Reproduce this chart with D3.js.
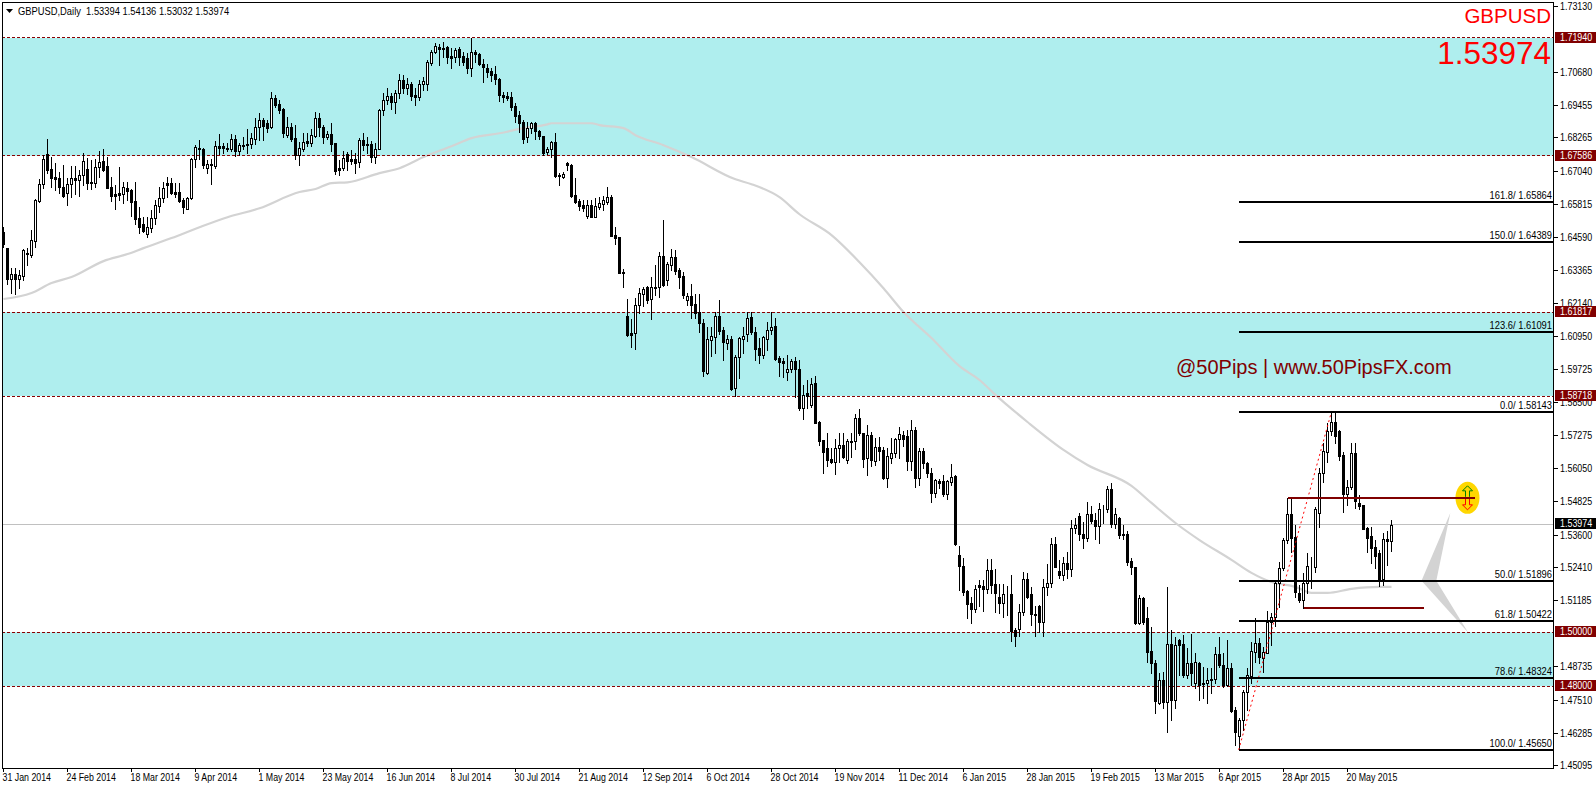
<!DOCTYPE html>
<html><head><meta charset="utf-8">
<script src="https://cdnjs.cloudflare.com/ajax/libs/d3/7.8.5/d3.min.js"></script>
<style>html,body{margin:0;padding:0;background:#fff;overflow:hidden}svg{display:block}
text{font-family:"Liberation Sans",Arial,sans-serif;font-size:11px;fill:#000}</style></head>
<body><svg id="c" width="1596" height="786"></svg>
<script>
// Prices in 1e-4 units, one bar per trading day
const opens=[
16477,16417,16304,16322,16304,16315,16399,16392,16443,16591,
16654,16765,16709,16680,16676,16643,16621,16654,16676,16669,
16687,16709,16661,16658,16717,16739,16720,16643,16617,16621,
16617,16639,16632,16591,16529,16506,16469,16492,16529,16573,
16602,16658,16658,16625,16625,16595,16562,16602,16746,16787,
16783,16713,16728,16720,16794,16794,16787,16783,16820,16776,
16798,16798,16802,16820,16864,16890,16879,16864,16971,16949,
16931,16835,16864,16824,16761,16783,16813,16805,16831,16898,
16864,16827,16838,16805,16713,16713,16765,16746,16746,16735,
16816,16802,16802,16754,16783,16927,16964,16979,16957,16990,
17038,17008,17023,16982,16975,17023,17023,17101,17141,17160,
17156,17160,17126,17123,17152,17126,17119,17082,17141,17134,
17097,17082,17071,17060,17042,16982,16979,16975,16942,16909,
16883,16827,16861,16879,16849,16831,16772,16783,16809,16687,
16680,16732,16724,16613,16591,16577,16536,16577,16532,16569,
16580,16588,16606,16466,16458,16329,
16167,16104,16104,16207,16248,16274,16230,16270,16274,16388,
16300,16355,16385,16337,16315,16226,16241,16211,16182,16141,
15957,16078,16089,16167,16115,16067,16082,15901,16016,16082,
16100,16163,16108,16048,16024,16082,16115,16130,16012,16001,
15960,15971,16001,15971,15827,15883,15839,15920,15776,15709,
15679,15639,15628,15679,15691,15636,15705,15705,15791,15735,
15643,15728,15632,15683,15673,15569,15643,15662,15713,15728,
15724,15632,15746,15569,15669,15625,15588,15514,15558,15558,
15510,15555,15577,
15286,15245,15152,15108,15086,15174,15171,15160,15230,15178,
15130,15108,15141,15141,15008,15012,15075,15197,15141,15067,
15097,15038,15167,15182,15326,15226,15211,15256,15233,15385,
15429,15363,15348,15436,15414,15392,15455,15455,15529,15399,
15421,15363,15363,15263,15241,15034,15126,15053,14931,14887,
14739,14824,14743,14956,14750,14971,14956,14842,14887,14813,
14887,14813,14813,14824,14828,14920,14879,14805,14868,14713,
14617,14676,14780,14839,14927,14960,14905,14923,15038,15056,
15182,15237,15340,15436,15351,15145,15119,15182,15245,15241,
15440,15588,15665,15743,15776,15743,15654,15510,15536,15662,
15477,15470,15385,15355,15315,15293,15197,15344,15337];
const highs=[
16495,16418,16344,16344,16337,16414,16418,16484,16599,16672,
16761,16820,16754,16732,16698,16724,16676,16720,16720,16706,
16768,16750,16743,16746,16776,16783,16754,16680,16650,16717,
16661,16661,16636,16661,16569,16532,16532,16558,16595,16643,
16661,16680,16676,16658,16658,16602,16606,16750,16798,16816,
16787,16743,16746,16813,16838,16805,16805,16838,16835,16805,
16827,16857,16842,16898,16916,16898,16890,16994,16982,16964,
16934,16901,16879,16872,16809,16842,16842,16857,16920,16916,
16872,16849,16879,16805,16743,16776,16772,16779,16768,16824,
16842,16827,16813,16805,16931,16990,17008,16990,17001,17060,
17056,17045,17030,17008,17038,17049,17112,17149,17174,17171,
17178,17163,17156,17156,17160,17141,17137,17193,17149,17137,
17115,17097,17082,17089,17045,16994,16994,16994,16953,16923,
16890,16883,16883,16883,16853,16831,16791,16813,16842,16695,
16698,16735,16728,16676,16599,16595,16595,16595,16602,16606,
16610,16643,16613,16495,16458,16340,
16230,16156,16233,16270,16274,16278,16311,16355,16403,16521,
16366,16414,16410,16344,16329,16252,16285,16248,16248,16156,
16126,16126,16182,16226,16126,16097,16093,16024,16089,16126,
16182,16182,16126,16086,16093,16145,16182,16159,16020,16012,
16024,16008,16016,16005,15913,15931,15938,15946,15780,15709,
15735,15679,15713,15735,15735,15713,15735,15806,15824,15735,
15765,15739,15717,15720,15683,15679,15717,15717,15757,15743,
15746,15783,15757,15679,15679,15628,15606,15566,15566,15580,
15562,15621,15580,
15318,15274,15156,15130,15174,15193,15193,15270,15270,15233,
15178,15178,15171,15211,15016,15104,15222,15219,15167,15097,
15101,15197,15252,15348,15351,15267,15278,15296,15414,15421,
15440,15407,15481,15466,15440,15477,15470,15540,15551,15458,
15425,15396,15374,15274,15241,15137,15130,15093,15019,14898,
14850,14853,15167,15008,14983,14975,14990,14942,14994,14923,
14890,14872,14868,14868,14946,14983,14923,14971,14887,14724,
14684,14787,14868,14964,15053,14979,14946,15078,15071,15193,
15259,15348,15495,15495,15396,15174,15219,15292,15278,15462,
15606,15698,15772,15809,15809,15746,15665,15562,15698,15698,
15507,15470,15388,15388,15340,15304,15366,15374,15414];
const lows=[
16421,16285,16252,16248,16270,16300,16355,16385,16421,16588,
16639,16695,16643,16632,16621,16606,16577,16606,16617,16610,
16650,16636,16636,16643,16680,16702,16639,16591,16562,16595,
16584,16595,16536,16506,16473,16477,16458,16477,16506,16551,
16588,16606,16617,16606,16588,16547,16562,16599,16717,16746,
16713,16695,16654,16713,16765,16768,16776,16776,16757,16761,
16783,16768,16787,16802,16816,16816,16846,16861,16938,16916,
16827,16827,16813,16746,16724,16776,16794,16794,16827,16831,
16805,16820,16776,16691,16687,16706,16706,16728,16695,16717,
16779,16768,16735,16732,16783,16909,16949,16931,16916,16971,
16990,16986,16964,16946,16964,17001,17001,17093,17137,17093,
17123,17101,17082,17104,17093,17093,17064,17053,17104,17093,
17030,17049,17034,17023,16960,16957,16964,16927,16883,16846,
16805,16809,16842,16820,16820,16761,16765,16754,16680,16650,
16676,16706,16606,16584,16558,16554,16529,16532,16532,16562,
16558,16580,16462,16433,16326,16274,
16093,16053,16045,16178,16204,16215,16156,16244,16237,16278,
16281,16337,16322,16270,16233,16207,16159,16159,16108,15946,
15953,16020,16030,16100,16005,16045,15894,15872,15938,16030,
16075,16100,16005,15994,16012,16042,16100,16005,15946,15942,
15931,15960,15868,15820,15787,15827,15831,15772,15691,15588,
15614,15625,15584,15628,15643,15625,15647,15676,15728,15610,
15580,15614,15618,15636,15566,15536,15625,15647,15643,15687,
15599,15599,15536,15544,15606,15573,15481,15499,15532,15503,
15492,15544,15322,
15156,15137,15053,15034,15075,15097,15078,15145,15145,15075,
15071,15056,15064,14968,14949,14986,15064,15126,15027,14986,
15001,14986,15137,15167,15241,15200,15193,15200,15207,15366,
15340,15311,15337,15403,15344,15329,15403,15444,15388,15385,
15348,15344,15248,15215,15031,15031,15031,14890,14850,14702,
14735,14720,14632,14676,14720,14842,14835,14831,14805,14794,
14750,14757,14739,14776,14813,14872,14798,14801,14706,14584,
14573,14639,14713,14813,14890,14887,14853,14923,14953,15023,
15093,15230,15329,15296,15130,15112,15090,15145,15163,15222,
15388,15554,15628,15728,15698,15636,15444,15470,15529,15458,
15455,15381,15296,15256,15237,15171,15174,15248,15300];
const closes=[
16433,16304,16322,16304,16318,16410,16396,16447,16595,16654,
16746,16706,16676,16672,16643,16610,16654,16676,16669,16687,
16739,16658,16658,16717,16735,16706,16639,16610,16610,16613,
16643,16628,16588,16525,16495,16480,16495,16529,16577,16602,
16639,16650,16621,16617,16591,16569,16602,16746,16791,16783,
16724,16728,16724,16794,16787,16787,16783,16820,16776,16798,
16794,16802,16824,16864,16890,16868,16861,16971,16946,16927,
16842,16864,16820,16761,16787,16809,16805,16835,16898,16864,
16827,16838,16802,16702,16706,16750,16739,16739,16732,16816,
16798,16798,16754,16783,16927,16964,16979,16957,16990,17038,
17008,17023,16979,16975,17023,17034,17104,17141,17163,17152,
17152,17123,17119,17149,17123,17104,17082,17141,17134,17097,
17086,17067,17056,17042,16982,16975,16971,16938,16905,16879,
16820,16861,16879,16849,16831,16768,16783,16809,16684,16684,
16691,16724,16610,16588,16573,16566,16577,16532,16573,16584,
16595,16606,16462,16455,16326,16326,
16096,16096,16207,16252,16267,16226,16274,16274,16388,16281,
16359,16385,16333,16311,16244,16241,16207,16178,16141,15964,
16082,16093,16167,16111,16071,16082,15898,16016,16086,16093,
16159,16108,16045,16024,16089,16115,16126,16008,15997,15994,
15971,16001,15971,15827,15876,15872,15916,15772,15705,15665,
15636,15628,15679,15691,15647,15705,15702,15791,15735,15639,
15728,15636,15683,15669,15569,15651,15662,15713,15731,15713,
15632,15746,15569,15669,15625,15588,15514,15562,15551,15510,
15558,15573,15326,
15245,15149,15104,15086,15160,15167,15160,15230,15174,15145,
15108,15141,15141,15005,14986,15075,15197,15130,15067,15064,
15038,15167,15182,15326,15241,15211,15256,15233,15385,15396,
15363,15348,15436,15411,15392,15455,15455,15529,15399,15436,
15359,15359,15259,15241,15034,15126,15038,14927,14887,14746,
14824,14743,14956,14750,14953,14953,14842,14887,14850,14890,
14805,14809,14824,14828,14920,14879,14805,14868,14709,14632,
14676,14780,14842,14931,14960,14909,14927,15038,15056,15182,
15237,15340,15436,15348,15149,15119,15182,15245,15245,15455,
15588,15669,15743,15776,15724,15651,15510,15536,15662,15484,
15466,15381,15348,15311,15282,15197,15344,15337,15397];
// moving average read at selected bars
const maBars=[0,7,12,17,25,31,35,42,49,56,64,74,78,82,86,94,99,105,112,117,124,130,136,137,147,149,155,158,165,172,183,187,194,199,207,214,220,225,232,239,244,248,256,265,271,282,287,293,299,307,312,317,323,327,331,337,344,347];
const maValues=[16230,16252,16289,16311,16370,16396,16418,16455,16495,16532,16565,16625,16636,16658,16661,16695,16713,16754,16794,16824,16842,16861,16875,16879,16879,16872,16861,16835,16798,16754,16672,16654,16606,16543,16466,16366,16270,16182,16086,15982,15931,15876,15776,15673,15617,15540,15477,15403,15340,15267,15219,15185,15167,15145,15145,15160,15167,15167];
const dateLabels=["31 Jan 2014","24 Feb 2014","18 Mar 2014","9 Apr 2014","1 May 2014","23 May 2014","16 Jun 2014","8 Jul 2014","30 Jul 2014","21 Aug 2014","12 Sep 2014","6 Oct 2014","28 Oct 2014","19 Nov 2014","11 Dec 2014","6 Jan 2015","28 Jan 2015","19 Feb 2015","13 Mar 2015","6 Apr 2015","28 Apr 2015","20 May 2015"];
const priceTicks=[1.7313,1.70680,1.69455,1.68265,1.6704,1.65815,1.6459,1.63365,1.6214,1.6095,1.59725,1.585,1.57275,1.5605,1.54825,1.536,1.5241,1.51185,1.48735,1.47510,1.46285,1.45095];
const zoneBands=[[1.7194,1.67586],[1.61817,1.58718],[1.5,1.48]];
const levelTags=[1.7194,1.67586,1.61817,1.58718,1.5,1.48];
const fibLevels=["161.8","150.0","123.6","0.0","50.0","61.8","78.6","100.0"];
const fibPrices=[1.65864,1.64389,1.61091,1.58143,1.51896,1.50422,1.48324,1.4565];
const lastClose=1.53974;
const header="GBPUSD,Daily  1.53394 1.54136 1.53032 1.53974";
const BARS_PER_TICK=16;

const W=1596,H=786,L=2,R=1553,T=2,B=768;
const x=d3.scaleLinear().domain([0,347]).range([3.5,1391.5]);
const y=d3.scaleLinear().domain([1.45095,1.7313]).range([765,5.7]);
const py=v=>y(v/1e4);
const snap=v=>Math.round(v)+0.5;
const svg=d3.select("#c");
// narrow a label to the pixel-font proportions of the terminal
function squeeze(sel,f){sel.each(function(){const n=this.getComputedTextLength();this.setAttribute("textLength",(n*f).toFixed(1));this.setAttribute("lengthAdjust","spacingAndGlyphs");});return sel;}
svg.append("defs").append("clipPath").attr("id","plot").append("rect").attr("x",L).attr("y",T).attr("width",R-L).attr("height",B-T);
const g=svg.append("g").attr("clip-path","url(#plot)");

g.selectAll(".zone").data(zoneBands).join("rect").attr("x",L).attr("width",R-L)
 .attr("y",d=>y(d[0])).attr("height",d=>y(d[1])-y(d[0])).attr("fill","#AFEEEE");
const bidY=Math.floor(y(lastClose));
g.append("line").attr("x1",L).attr("x2",R).attr("y1",bidY+.5).attr("y2",bidY+.5).attr("stroke","#C0C0C0").attr("shape-rendering","crispEdges");
const maLine=d3.line().x((d,i)=>x(maBars[i])).y(d=>py(d)).curve(d3.curveMonotoneX);
g.append("path").datum(maValues).attr("d",maLine).attr("fill","none").attr("stroke","#D3D3D3").attr("stroke-width",2.2);
g.selectAll(".lvl").data(levelTags).join("line").attr("x1",L).attr("x2",R)
 .attr("y1",d=>snap(y(d)-0.5)).attr("y2",d=>snap(y(d)-0.5)).attr("stroke","#8B0000").attr("stroke-dasharray","3,2").attr("shape-rendering","crispEdges");
const idx=d3.range(opens.length);
const cg=g.append("g").attr("shape-rendering","crispEdges");
cg.selectAll(".w").data(idx).join("line").attr("x1",i=>x(i)).attr("x2",i=>x(i))
 .attr("y1",i=>Math.round(py(highs[i]))).attr("y2",i=>Math.round(py(lows[i]))+1).attr("stroke","#000");
cg.selectAll(".b").data(idx).join("rect").attr("x",i=>x(i)-1).attr("width",2)
 .attr("y",i=>snap(py(Math.max(opens[i],closes[i]))))
 .attr("height",i=>Math.max(0,Math.round(py(Math.min(opens[i],closes[i])))-Math.round(py(Math.max(opens[i],closes[i])))))
 .attr("fill",i=>closes[i]>=opens[i]?"#fff":"#000").attr("stroke","#000");
g.append("line").attr("x1",x(308.8)).attr("y1",y(1.4565)).attr("x2",x(332)).attr("y2",y(1.58143)).attr("stroke","#FF0000").attr("stroke-dasharray","2,3");
g.append("polygon").attr("fill","#D3D3D3").attr("points",[[x(361.7),y(1.5440)],[x(354.5),y(1.51896)],[x(366.2),y(1.4998)],[x(358.2),y(1.51896)]].map(p=>p.join(",")).join(" "));
g.selectAll(".fib").data(fibPrices).join("line").attr("x1",x(308.8)).attr("x2",R)
 .attr("y1",d=>Math.round(y(d))).attr("y2",d=>Math.round(y(d))).attr("stroke","#000").attr("stroke-width",2).attr("shape-rendering","crispEdges");
squeeze(svg.selectAll(".fibt").data(fibPrices).join("text").attr("x",R-1).attr("y",d=>y(d)-3).attr("text-anchor","end")
 .text((d,i)=>fibLevels[i]+"/ "+d.toFixed(5)),0.85);
const markPrice=1.5496, lowMark=1.509;
g.append("ellipse").attr("cx",x(366)).attr("cy",y(markPrice)).attr("rx",12).attr("ry",16).attr("fill","#FFD700");
const cx=x(366),cy=y(markPrice);
const arrow=(s,c)=>g.append("path").attr("fill","none").attr("stroke",c).attr("d",d3.line()([[cx-2,cy-s],[cx-2,cy-s*7],[cx-5,cy-s*7],[cx,cy-s*12],[cx+5,cy-s*7],[cx+2,cy-s*7],[cx+2,cy-s]]));
arrow(1,"#008000");arrow(-1,"#FF0000");
g.append("line").attr("x1",x(321)).attr("x2",x(367.9)).attr("y1",Math.round(y(markPrice))).attr("y2",Math.round(y(markPrice))).attr("stroke","#800000").attr("stroke-width",2).attr("shape-rendering","crispEdges");
g.append("line").attr("x1",x(325)).attr("x2",x(355.2)).attr("y1",Math.round(y(lowMark))).attr("y2",Math.round(y(lowMark))).attr("stroke","#800000").attr("stroke-width",2).attr("shape-rendering","crispEdges");
const fr=svg.append("g").attr("shape-rendering","crispEdges").attr("stroke","#000");
fr.append("line").attr("x1",2.5).attr("x2",2.5).attr("y1",2).attr("y2",769);
fr.append("line").attr("x1",2).attr("x2",R+1).attr("y1",2.5).attr("y2",2.5);
fr.append("line").attr("x1",2).attr("x2",R+1).attr("y1",768.5).attr("y2",768.5);
fr.append("line").attr("x1",R+.5).attr("x2",R+.5).attr("y1",2).attr("y2",769);
const ax=svg.append("g");
ax.selectAll("line").data(priceTicks).join("line").attr("x1",R).attr("x2",R+5)
 .attr("y1",d=>snap(y(d))).attr("y2",d=>snap(y(d))).attr("stroke","#000").attr("shape-rendering","crispEdges");
squeeze(ax.selectAll("text").data(priceTicks).join("text").attr("x",R+7).attr("y",d=>y(d)+4).style("font-size","10px").text(d=>d.toFixed(5)),0.89);
const tx=svg.append("g");
tx.selectAll("line").data(dateLabels).join("line").attr("x1",(d,i)=>Math.floor(x(i*BARS_PER_TICK))+.5).attr("x2",(d,i)=>Math.floor(x(i*BARS_PER_TICK))+.5)
 .attr("y1",768).attr("y2",772).attr("stroke","#000").attr("shape-rendering","crispEdges");
squeeze(tx.selectAll("text").data(dateLabels).join("text").attr("x",(d,i)=>x(i*BARS_PER_TICK)-1).attr("y",781).text(d=>d),0.8);
const tags=svg.append("g");
tags.selectAll("rect").data(levelTags).join("rect").attr("x",R+2).attr("width",W-R-2).attr("height",11).attr("y",d=>Math.round(y(d))-6).attr("fill","#800000");
squeeze(tags.selectAll("text").data(levelTags).join("text").attr("x",R+7).attr("y",d=>Math.round(y(d))+3).style("font-size","10px").style("fill","#fff").text(d=>d.toFixed(5)),0.89);
tags.append("rect").attr("x",R+2).attr("width",W-R-2).attr("height",11).attr("y",bidY-6).attr("fill","#000");
squeeze(tags.append("text").attr("x",R+7).attr("y",bidY+3).style("font-size","10px").style("fill","#fff").text(lastClose.toFixed(5)),0.89);
svg.append("path").attr("d","M6 9H13L9.5 13Z").attr("fill","#000");
squeeze(svg.append("text").attr("x",18).attr("y",14.5).style("white-space","pre").text(header),0.85);
svg.append("text").attr("x",1551).attr("y",23).attr("text-anchor","end").style("font-size","20.5px").style("fill","#FF0000").text("GBPUSD");
svg.append("text").attr("x",1551).attr("y",64).attr("text-anchor","end").style("font-size","31.5px").style("fill","#FF0000").text(lastClose.toFixed(5));
svg.append("text").attr("x",1176).attr("y",374).style("font-size","20px").style("fill","#800000").text("@50Pips | www.50PipsFX.com");
</script></body></html>
